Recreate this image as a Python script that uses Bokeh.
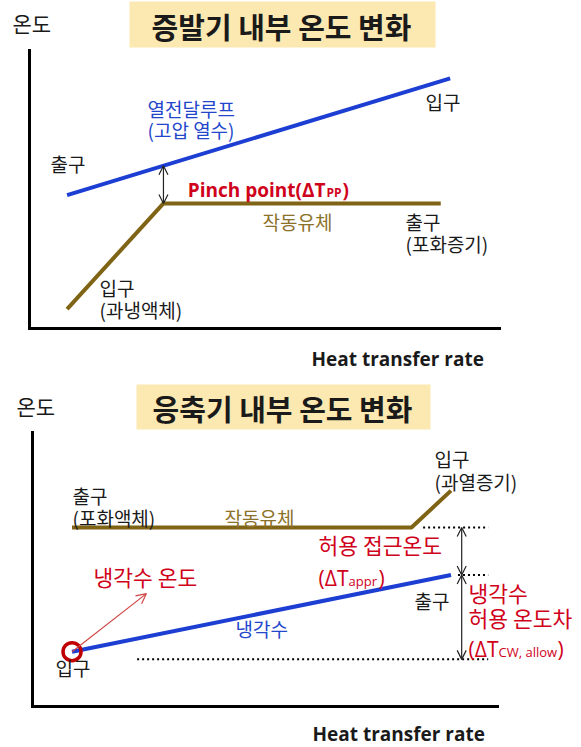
import numpy as np
from bokeh.plotting import figure
from bokeh.models import Range1d, LinearAxis, FixedTicker, Label, Arrow, OpenHead
from bokeh.layouts import column
from bokeh.embed import file_html
from bokeh.resources import INLINE

# ---------------- data (relative heat-transfer rate 0-100, relative temperature 0-100) -------------
# Evaporator (증발기)
evap_hot_q = [8.0, 89.5]          # 열전달루프 (고압 열수)
evap_hot_t = [48.0, 90.0]
evap_wf_q = [8.0, 28.5, 87.5]     # 작동유체
evap_wf_t = [7.0, 45.0, 45.0]

# Condenser (응축기)
cond_wf_q = [8.5, 81.5, 90.0]     # 작동유체
cond_wf_t = [65.3, 65.3, 78.8]
cond_cw_q = [8.5, 90.0]           # 냉각수
cond_cw_t = [20.0, 48.0]
cw_allow_low_t = 17.2             # lower limit of allowed cooling-water temperature
ref_q_top = [84.0, 98.0]
ref_q_mid = [91.5, 98.0]
ref_q_low = [22.5, 98.0]
dim_arrow_q = 92.3
cw_arrow_end = (24.5, 41.2)

titles = ["증발기 내부 온도 변화", "응축기 내부 온도 변화"]
y_label = "온도"
x_label = "Heat transfer rate"

KR = "Noto Sans CJK KR"
LAT = "Open Sans"
BLACK = "#1a1a1a"
BLUE = "#1c3ed2"
BLUE_T = "#2346cc"
BROWN = "#7f6415"
OLIVE_T = "#8c7129"
RED = "#d0021b"
TITLE_BG = "#fbe9b1"

W = 581


def make_panel(height, X0, X1, Y0, Y1, top_px, bottom_px):
    sx = (X1 - X0) / 100.0
    sy = (Y0 - Y1) / 100.0
    p = figure(width=W, height=height,
               x_range=Range1d((0 - X0) / sx, (W - X0) / sx),
               y_range=Range1d((Y0 - bottom_px) / sy, (Y0 - top_px) / sy),
               output_backend="svg", toolbar_location=None,
               x_axis_type=None, y_axis_type=None, min_border=0)
    p.outline_line_color = None
    p.background_fill_color = "white"
    p.border_fill_color = "white"
    for loc in ("below", "left"):
        ax = LinearAxis(fixed_location=0, bounds=(0, 100), ticker=FixedTicker(ticks=[]),
                        axis_line_width=3, axis_line_color="black", axis_line_cap="square",
                        major_tick_line_color=None, minor_tick_line_color=None,
                        major_label_text_font_size="0px")
        p.add_layout(ax, loc)

    def conv(px, py):
        return (px - X0) / sx, (Y0 - py) / sy
    return p, conv


def lab(p, conv, px, py, text, size, color=BLACK, font=KR, style="normal",
        align="left", baseline="middle"):
    x, y = conv(px, py)
    p.add_layout(Label(x=x, y=y, text=text, text_font=font, text_font_size=f"{size}px",
                       text_color=color, text_font_style=style, text_align=align,
                       text_baseline=baseline))


def title_box(p, conv, l, t, r, b):
    x0, y0 = conv(l, b)
    x1, y1 = conv(r, t)
    p.quad(left=x0, right=x1, bottom=y0, top=y1, fill_color=TITLE_BG, line_color=None)


def dim_arrow(p, q, t0, t1):
    p.add_layout(Arrow(start=OpenHead(size=9, line_width=1.2, line_color="#222222"),
                       end=OpenHead(size=9, line_width=1.2, line_color="#222222"),
                       x_start=q, y_start=t0, x_end=q, y_end=t1,
                       line_color="#222222", line_width=1.2))


# ---------------- top panel: evaporator ----------------
p1, c1 = make_panel(380, 29, 499, 328, 50, 0, 380)
title_box(p1, c1, 129, 1, 435, 47)
lab(p1, c1, 281, 25, titles[0], 29, style="bold", align="center")
lab(p1, c1, 12, 22, y_label, 21)

p1.line(evap_hot_q, evap_hot_t, line_color=BLUE, line_width=4)
p1.line(evap_wf_q, evap_wf_t, line_color=BROWN, line_width=4)

pinch_q = evap_wf_q[1]
pinch_hot = float(np.interp(pinch_q, evap_hot_q, evap_hot_t))
dim_arrow(p1, pinch_q, evap_wf_t[1], pinch_hot)

lab(p1, c1, 147, 108, "열전달루프", 19, BLUE_T)
lab(p1, c1, 147, 129, "(고압 열수)", 19, BLUE_T)
lab(p1, c1, 50, 163, "출구", 19)
lab(p1, c1, 425, 101, "입구", 19)
lab(p1, c1, 325, 189, "Pinch point(ΔT", 19, RED, LAT, "bold", align="right", baseline="alphabetic")
lab(p1, c1, 326, 192, "PP", 12, RED, LAT, "bold", baseline="alphabetic")
lab(p1, c1, 342, 189, ")", 19, RED, LAT, "bold", baseline="alphabetic")
lab(p1, c1, 262, 221, "작동유체", 19, OLIVE_T)
lab(p1, c1, 405, 221, "출구", 19)
lab(p1, c1, 405, 243, "(포화증기)", 19)
lab(p1, c1, 99, 287, "입구", 19)
lab(p1, c1, 99, 309, "(과냉액체)", 19)
lab(p1, c1, 311, 358, x_label, 19, BLACK, LAT, "bold")

# ---------------- bottom panel: condenser ----------------
p2, c2 = make_panel(367, 32, 497, 706, 432, 380, 747)
title_box(p2, c2, 136, 384, 430, 429)
lab(p2, c2, 282, 407, titles[1], 29, style="bold", align="center")
lab(p2, c2, 16, 405, y_label, 21)

p2.line(cond_wf_q, cond_wf_t, line_color=BROWN, line_width=4)
p2.line(cond_cw_q, cond_cw_t, line_color=BLUE, line_width=4)

for qs, t in ((ref_q_top, cond_wf_t[1]), (ref_q_mid, cond_cw_t[-1]), (ref_q_low, cw_allow_low_t)):
    p2.line(qs, [t, t], line_color="black", line_width=2, line_dash="2 3")

dim_arrow(p2, dim_arrow_q, cond_wf_t[1], cond_cw_t[-1])
dim_arrow(p2, dim_arrow_q, cond_cw_t[-1], cw_allow_low_t)

p2.add_layout(Arrow(end=OpenHead(size=10, line_width=1.2, line_color="#d04545"),
                    x_start=cond_cw_q[0], y_start=cond_cw_t[0],
                    x_end=cw_arrow_end[0], y_end=cw_arrow_end[1],
                    line_color="#d04545", line_width=1.2))
p2.scatter([cond_cw_q[0]], [cond_cw_t[0]], marker="circle", size=18,
           fill_color=None, line_color="#c00000", line_width=3.5)

lab(p2, c2, 434, 458, "입구", 19)
lab(p2, c2, 434, 481, "(과열증기)", 19)
lab(p2, c2, 72, 495, "출구", 19)
lab(p2, c2, 72, 517, "(포화액체)", 19)
lab(p2, c2, 224, 517, "작동유체", 19, OLIVE_T)
lab(p2, c2, 318, 544, "허용 접근온도", 21.5, RED)
lab(p2, c2, 348, 577, "(ΔT", 21, RED, LAT, align="right", baseline="alphabetic")
lab(p2, c2, 348, 580, "appr", 13, RED, LAT, baseline="alphabetic")
lab(p2, c2, 378, 577, ")", 21, RED, LAT, baseline="alphabetic")
lab(p2, c2, 93, 576, "냉각수 온도", 21.5, RED)
lab(p2, c2, 235, 628, "냉각수", 19, BLUE_T)
lab(p2, c2, 414, 600, "출구", 19)
lab(p2, c2, 468, 592, "냉각수", 21.5, RED)
lab(p2, c2, 468, 617, "허용 온도차", 21.5, RED)
lab(p2, c2, 498, 648, "(ΔT", 21, RED, LAT, align="right", baseline="alphabetic")
lab(p2, c2, 498, 651, "CW, allow", 13, RED, LAT, baseline="alphabetic")
lab(p2, c2, 557, 648, ")", 21, RED, LAT, baseline="alphabetic")
lab(p2, c2, 55, 667, "입구", 19)
lab(p2, c2, 312, 733, x_label, 19, BLACK, LAT, "bold")

layout = column(p1, p2, spacing=0)
open("out.html", "w").write(file_html(layout, INLINE))
